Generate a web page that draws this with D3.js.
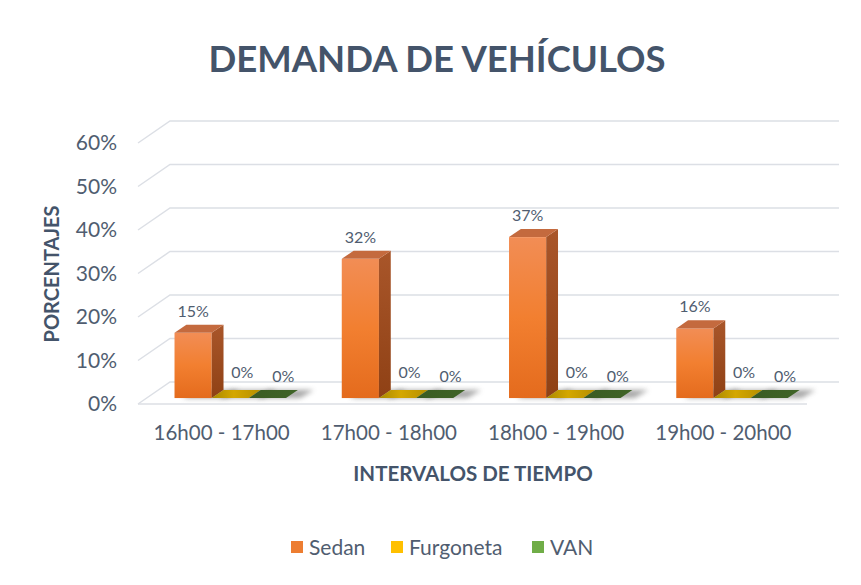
<!DOCTYPE html>
<html>
<head>
<meta charset="utf-8">
<script src="https://cdn.jsdelivr.net/npm/d3@7"></script>
<style>
  body { margin: 0; background: #fff; }
  text { font-family: Lato, "Open Sans", sans-serif; }
</style>
</head>
<body>
<div id="chart"></div>
<script>
// Data
const categories = ["16h00 - 17h00", "17h00 - 18h00", "18h00 - 19h00", "19h00 - 20h00"];
const seriesNames = ["Sedan", "Furgoneta", "VAN"];
const sedan = [0.15, 0.32, 0.37, 0.16];
const furgoneta = [0, 0, 0, 0];
const van = [0, 0, 0, 0];
const yTicks = [0, 0.1, 0.2, 0.3, 0.4, 0.5, 0.6];

const seriesValues = [sedan, furgoneta, van];

const width = 861, height = 585;
const floorY = 404;          // front edge of the floor
const dx = 32, dy = 22;      // oblique depth offset (front -> back)
const z0 = 0.27, z1 = 0.64;  // depth of the columns
const textColor = "#505d70";
const titleColor = "#44546a";

const svg = d3.select("#chart")
    .append("svg")
    .attr("width", width)
    .attr("height", height);

const defs = svg.append("defs");

// gradients
function vGrad(id, stops) {
    const g = defs.append("linearGradient").attr("id", id)
        .attr("x1", 0).attr("y1", 0).attr("x2", 0).attr("y2", 1);
    stops.forEach(s => g.append("stop").attr("offset", s[0]).attr("stop-color", s[1]));
}
function hGrad(id, stops) {
    const g = defs.append("linearGradient").attr("id", id)
        .attr("x1", 0).attr("y1", 0).attr("x2", 1).attr("y2", 0);
    stops.forEach(s => g.append("stop").attr("offset", s[0]).attr("stop-color", s[1]));
}
vGrad("sedanFront", [[0, "#f28d55"], [0.5, "#f27f30"], [1, "#e46b1d"]]);
vGrad("sedanSide", [[0, "#a9562a"], [1, "#8f4115"]]);
hGrad("furgTop", [[0, "#a98800"], [0.45, "#d4a700"], [1, "#b58f00"]]);
hGrad("vanTop", [[0, "#3a5b23"], [1, "#3f6427"]]);

defs.append("filter").attr("id", "blur")
    .attr("x", "-50%").attr("y", "-50%").attr("width", "200%").attr("height", "200%")
    .append("feGaussianBlur").attr("stdDeviation", 2.5);

// Scales
const x = d3.scaleBand()
    .domain(categories)
    .range([138, 807]);

const bw = x.bandwidth() / 4.5;   // gap width 150%

const h = d3.scaleLinear()
    .domain([0, 0.6])
    .range([0, 261]);

const yFront = d3.scaleLinear()
    .domain([0, 0.6])
    .range([floorY, floorY - 261]);

// projection of (x on front plane, value, depth)
function P(px, v, z) {
    return [px + z * dx, floorY - z * dy - h(v)];
}

// Walls and gridlines
const grid = svg.append("g")
    .attr("fill", "none")
    .attr("stroke", "#dcdfe5")
    .attr("stroke-width", 1.5);

yTicks.forEach(t => {
    const a = P(138, t, 0), b = P(138, t, 1), c = P(807, t, 1);
    grid.append("path").attr("d", d3.line()([a, b, c]));
});
grid.append("line")
    .attr("x1", 138).attr("y1", floorY)
    .attr("x2", 807).attr("y2", floorY);

// Y axis labels
svg.append("g")
    .attr("transform", "translate(117,0)")
    .call(d3.axisLeft(yFront).tickValues(yTicks).tickSize(0).tickPadding(0).tickFormat(d3.format(".0%")))
    .call(g => g.select(".domain").remove())
    .selectAll("text")
    .attr("fill", textColor)
    .attr("font-size", 21)
    .attr("font-family", "Lato, sans-serif");

// Category labels
svg.append("g")
    .attr("transform", "translate(0," + (floorY + 21) + ")")
    .call(d3.axisBottom(x).tickSize(0).tickPadding(0))
    .call(g => g.select(".domain").remove())
    .selectAll("text")
    .attr("fill", textColor)
    .attr("font-size", 20.5)
    .attr("font-family", "Lato, sans-serif");

// Columns
const bars = svg.append("g");

categories.forEach((cat, i) => {
    seriesValues.forEach((vals, j) => {
        const xa = x(cat) + 0.75 * bw + j * bw;
        const xb = xa + bw;
        // soft shadow of the footprint, to the right
        const fp = [P(xa + 8, 0, z0), P(xb + 14, 0, z0), P(xb + 16, 0, z1), P(xa + 8, 0, z1)];
        bars.append("path")
            .attr("d", d3.line()(fp) + "Z")
            .attr("fill", "#606060")
            .attr("opacity", 0.55)
            .attr("filter", "url(#blur)");
    });
    seriesValues.forEach((vals, j) => {
        const v = vals[i];
        const xa = x(cat) + 0.75 * bw + j * bw;
        const xb = xa + bw;
        const topFace = [P(xa, v, z0), P(xb, v, z0), P(xb, v, z1), P(xa, v, z1)];
        if (j === 0) {
            const ft = P(xa, v, z0);
            bars.append("rect")
                .attr("x", ft[0]).attr("y", ft[1])
                .attr("width", bw).attr("height", h(v))
                .attr("fill", "url(#sedanFront)");
            const side = [P(xb, 0, z0), P(xb, 0, z1), P(xb, v, z1), P(xb, v, z0)];
            bars.append("path").attr("d", d3.line()(side) + "Z")
                .attr("fill", "url(#sedanSide)");
            bars.append("path").attr("d", d3.line()(topFace) + "Z")
                .attr("fill", "#c46a3e");
        } else {
            bars.append("path").attr("d", d3.line()(topFace) + "Z")
                .attr("fill", j === 1 ? "url(#furgTop)" : "url(#vanTop)");
        }
    });
});

// Data labels
const labels = svg.append("g")
    .attr("fill", textColor)
    .attr("font-size", 16)
    .attr("text-anchor", "middle");

categories.forEach((cat, i) => {
    seriesValues.forEach((vals, j) => {
        const v = vals[i];
        const xa = x(cat) + 0.75 * bw + j * bw;
        let p;
        if (j === 0) {
            p = P(xa + bw / 2, v, z0);
            p = [p[0], p[1] - 16];
        } else {
            p = P(xa + bw / 2, v, (z0 + z1) / 2);
            p = [p[0] + (j === 1 ? 6 : 10), p[1] - 16 + (j === 2 ? 4 : 0)];
        }
        labels.append("text")
            .attr("x", p[0]).attr("y", p[1])
            .text(d3.format(".0%")(v));
    });
});

// Titles
svg.append("text")
    .attr("x", 437).attr("y", 72)
    .attr("text-anchor", "middle")
    .attr("fill", titleColor)
    .attr("font-size", 36.5)
    .attr("font-weight", "bold")
    .text("DEMANDA DE VEHÍCULOS");

svg.append("text")
    .attr("x", 473).attr("y", 481)
    .attr("text-anchor", "middle")
    .attr("fill", titleColor)
    .attr("font-size", 20.5)
    .attr("font-weight", "bold")
    .text("INTERVALOS DE TIEMPO");

svg.append("text")
    .attr("transform", "translate(59,274) rotate(-90)")
    .attr("text-anchor", "middle")
    .attr("fill", titleColor)
    .attr("font-size", 20)
    .attr("font-weight", "bold")
    .text("PORCENTAJES");

// Legend
const legendColors = ["#ed7d31", "#ffc000", "#70ad47"];
const legendX = [291, 391, 532];
const legend = svg.append("g");
seriesNames.forEach((name, k) => {
    legend.append("rect")
        .attr("x", legendX[k]).attr("y", 541)
        .attr("width", 12).attr("height", 12)
        .attr("fill", legendColors[k]);
    legend.append("text")
        .attr("x", legendX[k] + 18).attr("y", 555)
        .attr("fill", textColor)
        .attr("font-size", 21)
        .text(name);
});
</script>
</body>
</html>
